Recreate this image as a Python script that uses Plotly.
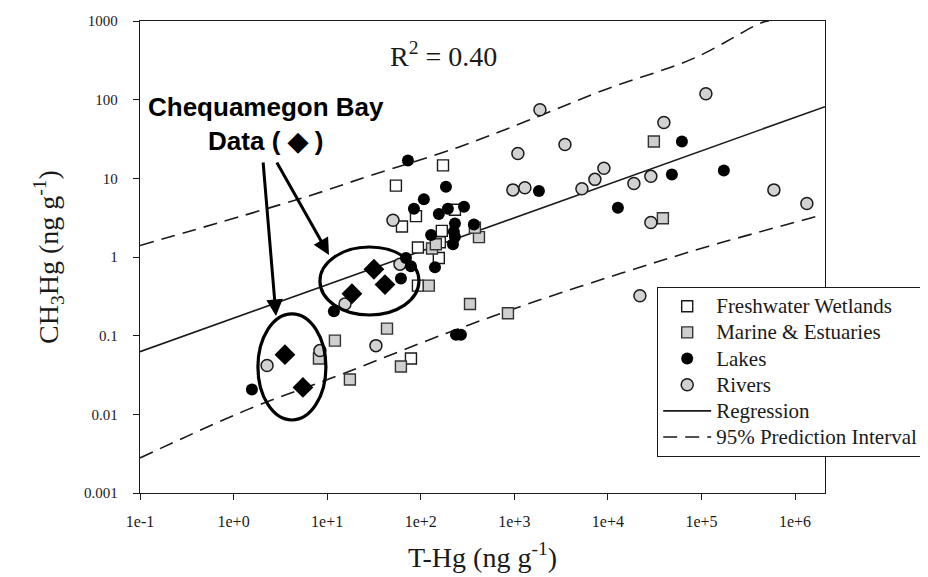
import plotly.graph_objects as go

# ---------------- data ----------------
fw_x = [173, 54.3, 88.9, 63.0, 168, 232, 93.3, 160, 156, 93.3, 78.6]
fw_y = [14.6, 8.07, 3.31, 2.44, 2.15, 3.98, 1.32, 1.54, 0.97, 0.433, 0.0512]

me_x = [419, 379, 132, 145, 122, 336, 855, 43.6, 12.1, 8.17, 61.4, 17.5, 30990, 38700]
me_y = [1.79, 2.36, 1.28, 1.45, 0.433, 0.253, 0.193, 0.123, 0.0865, 0.0512, 0.0405, 0.0277, 29.4, 3.11]

lk_x = [73, 186, 108, 84.6, 156, 195, 290, 232, 370, 129, 226, 232, 221, 69.5, 78.6, 142,
        61.4, 11.8, 1.57, 238, 269, 1832, 61800, 48290, 173400, 12790]
lk_y = [16.9, 7.82, 5.41, 4.11, 3.52, 4.11, 4.36, 2.67, 2.59, 1.91, 2.09, 1.79, 1.45, 0.97, 0.764, 0.741,
        0.533, 0.205, 0.0207, 0.103, 0.103, 6.92, 29.4, 11.2, 12.6, 4.24]

rv_x = [50.5, 60.0, 15.5, 8.37, 33.2, 2.28, 1878, 111500, 39650, 1092, 3475, 9066, 7261, 5277,
        966, 1297, 18960, 28790, 594000, 1337000, 28790, 21980]
rv_y = [2.93, 0.811, 0.253, 0.0646, 0.0747, 0.0417, 74.6, 119, 51.2, 20.7, 26.9, 13.4, 9.7, 7.36,
        7.13, 7.59, 8.58, 10.6, 7.13, 4.79, 2.75, 0.321]

cb_x = [31.6, 41.5, 18.4, 3.54, 5.51]
cb_y = [0.699, 0.446, 0.341, 0.0574, 0.022]

reg_x = [0.1, 2090000]
reg_y = [0.0626, 81.5]

up_x = [0.1, 6.24, 27.3, 249, 1397, 9290, 84900, 431000, 525000]
up_y = [1.40, 5.93, 10.6, 24.7, 54.2, 134, 340, 944, 1000]

lo_x = [0.1, 1.43, 14.0, 195, 1397, 13770, 117000, 1754000]
lo_y = [0.00279, 0.01156, 0.0321, 0.109, 0.253, 0.62, 1.36, 3.31]

x_tickvals = [0.1, 1, 10, 100, 1000, 10000, 100000, 1000000]
x_ticktext = ["1e-1", "1e+0", "1e+1", "1e+2", "1e+3", "1e+4", "1e+5", "1e+6"]
y_tickvals = [0.001, 0.01, 0.1, 1, 10, 100, 1000]
y_ticktext = ["0.001", "0.01", "0.1", "1", "10", "100", "1000"]

# ---------------- figure ----------------
SERIF = "Liberation Serif, Times New Roman, serif"
SANS = "Liberation Sans, Arial, sans-serif"
INK = "#1a1a1a"


def lg(name):
    # legend label drawn at 21px while the row spacing follows the 17.8px legend font
    return '<span style="font-size:21px">' + name + '</span>'


fig = go.Figure()

fig.add_trace(go.Scatter(x=reg_x, y=reg_y, mode="lines", name=lg("Regression"),
                         line=dict(color=INK, width=1.6), legendrank=5))
fig.add_trace(go.Scatter(x=up_x, y=up_y, mode="lines", name=lg("95% Prediction Interval&nbsp;&nbsp;"),
                         legendgroup="pi", line=dict(color=INK, width=1.6, dash="14px,8px"),
                         line_shape="spline", legendrank=6))
fig.add_trace(go.Scatter(x=lo_x, y=lo_y, mode="lines", name="95% Prediction Interval",
                         legendgroup="pi", showlegend=False, line_shape="spline",
                         line=dict(color=INK, width=1.6, dash="14px,8px")))

fig.add_trace(go.Scatter(x=fw_x, y=fw_y, mode="markers", name=lg("Freshwater Wetlands"), legendrank=1,
                         marker=dict(symbol="square", size=11, color="white",
                                     line=dict(color=INK, width=1.4))))
fig.add_trace(go.Scatter(x=me_x, y=me_y, mode="markers", name=lg("Marine &amp; Estuaries"), legendrank=2,
                         marker=dict(symbol="square", size=11, color="#cfcfcf",
                                     line=dict(color="#333", width=1.4))))
fig.add_trace(go.Scatter(x=rv_x, y=rv_y, mode="markers", name=lg("Rivers"), legendrank=4,
                         marker=dict(symbol="circle", size=12, color="#d2d2d2",
                                     line=dict(color=INK, width=1.5))))
fig.add_trace(go.Scatter(x=lk_x, y=lk_y, mode="markers", name=lg("Lakes"), legendrank=3,
                         marker=dict(symbol="circle", size=12, color="black",
                                     line=dict(color="black", width=0))))
fig.add_trace(go.Scatter(x=cb_x, y=cb_y, mode="markers", name="Chequamegon Bay", showlegend=False,
                         marker=dict(symbol="diamond", size=16, color="black",
                                     line=dict(color="black", width=0))))

# ellipses around the Chequamegon Bay data
fig.add_shape(type="circle", xref="x", yref="y", x0=1.82, x1=9.7, y0=0.00847, y1=0.189,
              line=dict(color="black", width=3.2), layer="above")
fig.add_shape(type="circle", xref="x", yref="y", x0=8.37, x1=95.7, y0=0.183, y1=1.34,
              line=dict(color="black", width=3.2), layer="above")

W, H = 928, 577
L, R, T, B = 132, 111, 13, 92
PW, PH = W - L - R, H - T - B


def px(xp):
    return (xp - L) / PW


def py(yp):
    return (H - B - yp) / PH


# arrows
for tip, tail in [((268, 308), (255, 153)), ((321, 247), (268, 153))]:
    fig.add_annotation(x=px(tip[0]), y=py(tip[1]), xref="paper", yref="paper", text="",
                       showarrow=True, ax=tail[0] - tip[0], ay=tail[1] - tip[1],
                       arrowhead=2, arrowsize=1.1, arrowwidth=3, arrowcolor="black", standoff=0)

fig.add_annotation(x=px(258), y=py(116), xref="paper", yref="paper", showarrow=False,
                   text="<b>Chequamegon Bay</b><br><b>Data ( ◆ )</b>",
                   font=dict(family=SANS, size=26, color="black"), align="center",
                   xanchor="center", yanchor="middle")

fig.add_annotation(x=px(435), y=py(46), xref="paper", yref="paper", showarrow=False,
                   text="R<sup>2</sup> = 0.40", font=dict(family=SERIF, size=28, color=INK),
                   xanchor="center", yanchor="middle")

# axis titles
fig.add_annotation(x=px(474), y=py(547), xref="paper", yref="paper", showarrow=False,
                   text="T-Hg (ng g<sup>-1</sup>)", font=dict(family=SERIF, size=28, color=INK),
                   xanchor="center", yanchor="middle")
fig.add_annotation(x=px(40), y=py(249), xref="paper", yref="paper", showarrow=False,
                   text="CH<sub>3</sub>Hg (ng g<sup>-1</sup>)", textangle=-90,
                   font=dict(family=SERIF, size=28, color=INK),
                   xanchor="center", yanchor="middle")

axis_common = dict(showgrid=False, zeroline=False, showline=True, linecolor=INK, linewidth=1.3,
                   mirror=True, ticks="outside", ticklen=6, tickwidth=1.2, tickcolor=INK)

fig.update_xaxes(type="log", range=[-1, 6.32], tickvals=x_tickvals, ticktext=x_ticktext,
                 ticklabelstandoff=8, tickfont=dict(family=SERIF, size=16, color=INK), **axis_common)
fig.update_yaxes(type="log", range=[-3, 3], tickvals=y_tickvals, ticktext=y_ticktext,
                 ticklabelstandoff=12, tickfont=dict(family=SERIF, size=15, color=INK), **axis_common)

fig.update_layout(
    width=W, height=H,
    margin=dict(l=L, r=R, t=T, b=B, autoexpand=False),
    paper_bgcolor="white", plot_bgcolor="white",
    font=dict(family=SERIF, color=INK),
    legend=dict(x=px(649), y=py(279), xanchor="left", yanchor="top",
                bgcolor="white", bordercolor=INK, borderwidth=1.2,
                font=dict(family=SERIF, size=17.8, color=INK),
                itemwidth=48, tracegroupgap=0, traceorder="normal"),
    showlegend=True,
)

fig.write_html("out.html")
